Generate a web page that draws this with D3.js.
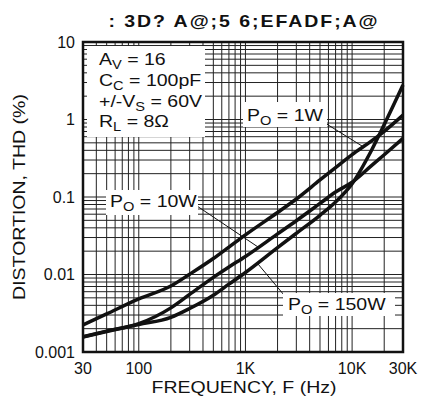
<!DOCTYPE html>
<html>
<head>
<meta charset="utf-8">
<script src="https://cdn.jsdelivr.net/npm/d3@7"></script>
<style>
  body { margin: 0; background: #fff; }
  text { font-family: "Liberation Sans", Arial, Helvetica, sans-serif; fill: #111; }
</style>
</head>
<body>
<div id="chart"></div>
<script>
// values
const freqs   = [30, 50, 100, 200, 300, 500, 700, 1000, 2000, 3000, 5000, 7000, 10000, 15000, 20000, 30000];
const thd1W   = [0.00223, 0.0031, 0.00484, 0.00711, 0.0101, 0.0161, 0.0226, 0.0325, 0.0631, 0.0942, 0.166, 0.240, 0.353, 0.521, 0.705, 1.14];
const thd10W  = [0.00157, 0.00186, 0.00232, 0.00371, 0.00553, 0.00918, 0.0125, 0.0171, 0.0334, 0.0494, 0.0826, 0.116, 0.155, 0.250, 0.351, 0.572];
const thd150W = [0.00156, 0.00184, 0.00226, 0.0028, 0.00364, 0.0054, 0.0075, 0.0106, 0.0222, 0.034, 0.058, 0.0861, 0.148, 0.386, 0.859, 2.79];

const xTicks = [30, 100, 1000, 10000, 30000];
const xTickLabels = ["30", "100", "1K", "10K", "30K"];
const yTicks = [0.001, 0.01, 0.1, 1, 10];
const yTickLabels = ["0.001", "0.01", "0.1", "1", "10"];

const titleText = ": 3D? A@;5 6;EFADF;A@";
const xTitle = "FREQUENCY, F (Hz)";
const yTitle = "DISTORTION, THD (%)";

const width = 421, height = 401;
const plot = { left: 83, right: 403, top: 42, bottom: 352 };
const stretch = 1.22; // the scanned lettering is wider than Helvetica

const svg = d3.select("#chart").append("svg")
  .attr("width", width)
  .attr("height", height);

const x = d3.scaleLog().domain([30, 30000]).range([plot.left, plot.right]);
const y = d3.scaleLog().domain([0.001, 10]).range([plot.bottom, plot.top]);

// grid: every 1..9 multiple inside each decade
const xGrid = [];
for (let p = 1; p <= 4; p++) {
  for (let k = 1; k <= 9; k++) {
    const v = k * Math.pow(10, p);
    if (v > 30 && v < 30000) xGrid.push(v);
  }
}
const yGrid = [];
for (let p = -3; p <= 0; p++) {
  for (let k = 1; k <= 9; k++) {
    const v = +(k * Math.pow(10, p)).toPrecision(3);
    if (v > 0.001 && v < 10) yGrid.push(v);
  }
}

const grid = svg.append("g").attr("class", "grid");
grid.selectAll(".vx").data(xGrid).join("line")
  .attr("class", "vx")
  .attr("x1", d => x(d)).attr("x2", d => x(d))
  .attr("y1", plot.top).attr("y2", plot.bottom)
  .attr("stroke", "#222").attr("stroke-width", 1);
grid.selectAll(".hy").data(yGrid).join("line")
  .attr("class", "hy")
  .attr("y1", d => y(d)).attr("y2", d => y(d))
  .attr("x1", plot.left).attr("x2", plot.right)
  .attr("stroke", "#222").attr("stroke-width", 1);

// curves
const series = [thd1W, thd10W, thd150W];
const line = d3.line()
  .x(d => x(d[0]))
  .y(d => y(d[1]))
  .curve(d3.curveMonotoneX);

svg.append("g").selectAll("path").data(series).join("path")
  .attr("d", s => line(freqs.map((f, i) => [f, s[i]])))
  .attr("fill", "none")
  .attr("stroke", "#111")
  .attr("stroke-width", 3.5)
  .attr("stroke-linejoin", "round");

// leader lines
const leaders = [
  [325, 123, 362, 146],
  [197, 206, 258, 247],
  [284, 295, 258, 264]
];
svg.append("g").selectAll("line").data(leaders).join("line")
  .attr("x1", d => d[0]).attr("y1", d => d[1])
  .attr("x2", d => d[2]).attr("y2", d => d[3])
  .attr("stroke", "#111").attr("stroke-width", 1);

// white label boxes
const boxes = [
  [87, 46, 118, 91],
  [243, 102, 84, 25],
  [106, 190, 92, 25],
  [283, 293, 112, 23]
];
svg.append("g").selectAll("rect").data(boxes).join("rect")
  .attr("x", d => d[0]).attr("y", d => d[1])
  .attr("width", d => d[2]).attr("height", d => d[3])
  .attr("fill", "#fff");

// text with subscripts, stretched horizontally
function subLabel(px, py, main, sub, rest) {
  const t = svg.append("g")
    .attr("transform", "translate(" + px + "," + py + ") scale(" + stretch + ",1)")
    .append("text")
      .attr("font-size", 16);
  t.append("tspan").text(main);
  t.append("tspan").text(sub).attr("font-size", 12).attr("dy", 4);
  t.append("tspan").text(rest).attr("dy", -4);
}

subLabel(99, 65, "A", "V", " = 16");
subLabel(99, 86, "C", "C", " = 100pF");
subLabel(99, 107, "+/-V", "S", " = 60V");
subLabel(99, 127, "R", "L", " = 8\u03A9");
subLabel(247, 121, "P", "O", " = 1W");
subLabel(110, 207, "P", "O", " = 10W");
subLabel(288, 310, "P", "O", " = 150W");

// frame
svg.append("rect")
  .attr("x", plot.left).attr("y", plot.top)
  .attr("width", plot.right - plot.left)
  .attr("height", plot.bottom - plot.top)
  .attr("fill", "none")
  .attr("stroke", "#111")
  .attr("stroke-width", 2.5);

// tick labels
svg.append("g").selectAll("text").data(xTicks).join("text")
  .attr("x", d => x(d))
  .attr("y", 374)
  .attr("text-anchor", "middle")
  .attr("font-size", 16)
  .text((d, i) => xTickLabels[i]);

svg.append("g").selectAll("text").data(yTicks).join("text")
  .attr("x", 75)
  .attr("y", d => y(d) + 5.5)
  .attr("text-anchor", "end")
  .attr("font-size", 16)
  .text((d, i) => yTickLabels[i]);

// axis titles
svg.append("g")
  .attr("transform", "translate(244,393) scale(" + stretch + ",1)")
  .append("text")
    .attr("text-anchor", "middle")
    .attr("font-size", 16)
    .text(xTitle);

svg.append("g")
  .attr("transform", "translate(25,197) rotate(-90) scale(" + stretch + ",1)")
  .append("text")
    .attr("text-anchor", "middle")
    .attr("font-size", 16)
    .text(yTitle);

// title
svg.append("g")
  .attr("transform", "translate(244,27) scale(" + stretch + ",1)")
  .append("text")
    .attr("text-anchor", "middle")
    .attr("font-size", 16)
    .attr("font-weight", "bold")
    .attr("letter-spacing", 1.6)
    .text(titleText);
</script>
</body>
</html>
